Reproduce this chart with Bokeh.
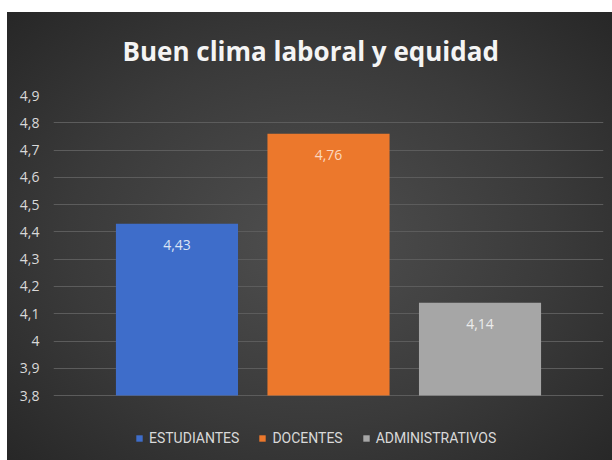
from bokeh.plotting import figure
from bokeh.models import (ColumnDataSource, FactorRange, Range1d, FixedTicker,
                          CustomJSTickFormatter, LabelSet, Legend, LegendItem)
from bokeh.transform import dodge
from bokeh.core.properties import value
from bokeh.embed import file_html
from bokeh.resources import INLINE

# ---- data ----
categories = ["Buen clima laboral y equidad"]
series = ["ESTUDIANTES", "DOCENTES", "ADMINISTRATIVOS"]
values = [4.43, 4.76, 4.14]
y_ticks = [3.8, 3.9, 4.0, 4.1, 4.2, 4.3, 4.4, 4.5, 4.6, 4.7, 4.8, 4.9]

# ---- styles ----
colors = ["#3e6dca", "#ec782c", "#a6a6a6"]
label_colors = ["#dbe4f5", "#fbd8c0", "#ececec"]
offsets = [-0.2755, 0.0, 0.2755]
bar_width = 0.222
y_min, y_max = y_ticks[0], y_ticks[-1]
legend_room = 0.238  # extra space below the axis minimum that holds the legend

p = figure(frame_width=550, frame_height=365,
           x_range=FactorRange(factors=categories, range_padding=0),
           y_range=Range1d(y_min - legend_room, y_max), x_axis_type=None,
           output_backend="svg", toolbar_location=None,
           min_border_left=53, min_border_right=9, min_border_top=95, min_border_bottom=0)

p.styles = {"background":
            "linear-gradient(#ffffff, #ffffff) left top / 100% 12px no-repeat, "
            "linear-gradient(#ffffff, #ffffff) left top / 7px 100% no-repeat, "
            "radial-gradient(ellipse at 51% 52%, #4f4f4f 0%, #3a3a3a 55%, #252525 100%)"}
p.background_fill_alpha = 0
p.border_fill_alpha = 0
p.outline_line_color = None

p.title.text = "Buen clima laboral y equidad"
p.title.align = "left"
p.title.offset = 69
p.title.text_font = "Open Sans"
p.title.text_font_style = "bold"
p.title.text_font_size = "26px"
p.title.text_color = "#f4f4f4"
p.title.standoff = 54

p.xgrid.grid_line_color = None
p.ygrid.grid_line_color = "#5c5c5c"
p.ygrid.grid_line_width = 1

yax = p.yaxis[0]
yax.ticker = FixedTicker(ticks=y_ticks)
yax.formatter = CustomJSTickFormatter(code="return (Math.round(tick*10)/10).toString().replace('.', ',');")
yax.axis_line_color = None
yax.major_tick_line_color = None
yax.minor_tick_line_color = None
yax.major_tick_out = 0
yax.major_label_standoff = 14
yax.major_label_text_color = "#d9d9d9"
yax.major_label_text_font = "Open Sans"
yax.major_label_text_font_size = "14px"

items = []
for i, name in enumerate(series):
    src = ColumnDataSource(dict(x=categories, top=[values[i]],
                                label=[f"{values[i]:.2f}".replace(".", ",")]))
    r = p.vbar(x=dodge("x", offsets[i], range=p.x_range), top="top", bottom=y_min,
               width=bar_width, fill_color=colors[i], line_color=None, source=src)
    items.append(LegendItem(label=name, renderers=[r]))
    p.add_layout(LabelSet(x=dodge("x", offsets[i], range=p.x_range), y="top", text="label",
                          y_offset=-21, text_align="center", text_baseline="middle",
                          text_color=label_colors[i], text_font=value("Open Sans"),
                          text_font_size=value("14px"), source=src))

legend = Legend(items=items, orientation="horizontal", location=(80, 12))
legend.background_fill_alpha = 0
legend.border_line_alpha = 0
legend.label_text_color = "#d9d9d9"
legend.label_text_font = "Roboto"
legend.label_text_font_size = "14px"
legend.glyph_width = 8
legend.glyph_height = 8
legend.label_standoff = 6
legend.spacing = 19
legend.margin = 0
legend.padding = 2
p.add_layout(legend, "center")

open("out.html", "w").write(file_html(p, INLINE))
